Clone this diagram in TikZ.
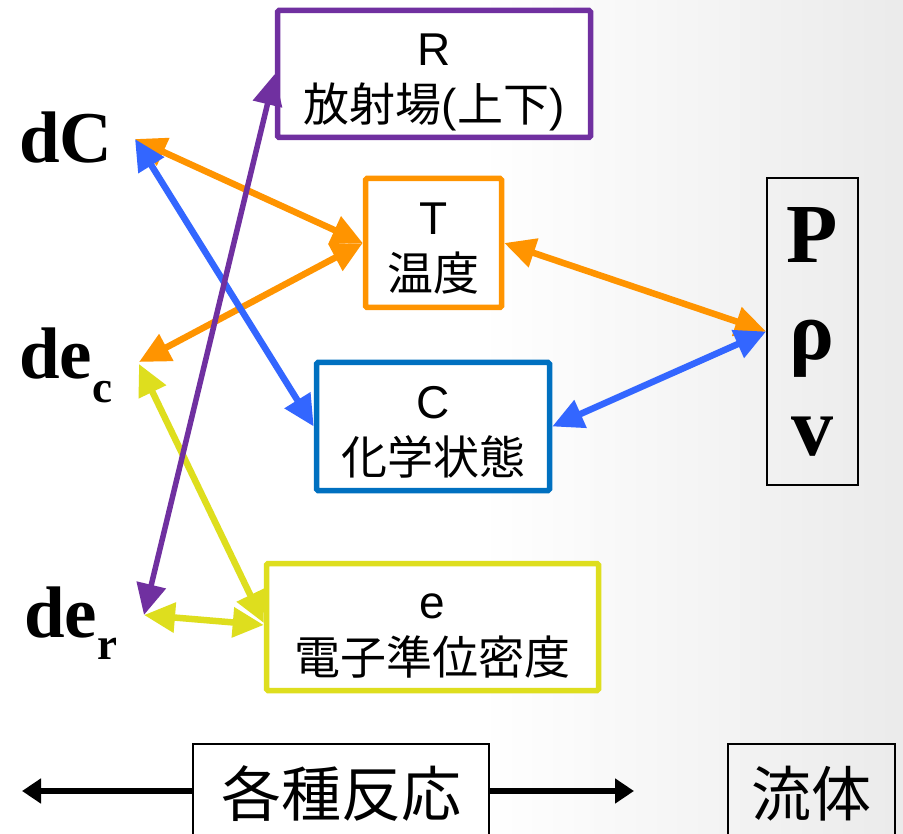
\documentclass[tikz,border=0pt]{standalone}
\usepackage{fontspec}
\setmainfont{Liberation Serif}
\newfontfamily\sansf{Liberation Sans}
\newfontfamily\cjk{Noto Sans CJK JP}
\usetikzlibrary{arrows.meta}
\definecolor{corange}{HTML}{FF9400}
\definecolor{cblue}{HTML}{3366FF}
\definecolor{cboxblue}{HTML}{0070C0}
\definecolor{cpurple}{HTML}{7030A0}
\definecolor{cyellow}{HTML}{DEDE1E}
\tikzset{
  cbox/.style={draw=#1, line width=5.5pt, fill=white, rounded corners=1.5pt,
    align=center, inner sep=0pt, font=\sansf\fontsize{46}{56}\selectfont},
  link/.style={draw=#1, line width=6.5pt,
    {Triangle[length=31pt,width=29pt]}-{Triangle[length=31pt,width=29pt]}},
  lbl/.style={font=\bfseries\fontsize{73}{73}\selectfont, anchor=base west, inner sep=0pt},
  pv/.style={font=\bfseries\fontsize{84}{84}\selectfont, anchor=base, inner sep=0pt},
  bbox/.style={draw=black, line width=2pt, inner sep=0pt,
    font=\cjk\fontsize{60}{60}\selectfont},
  barrow/.style={draw=black, line width=6.5pt, -{Triangle[length=19pt,width=24pt]}}
}
\newcommand{\subtxt}[2]{\raisebox{-#1}{\fontsize{45}{45}\selectfont #2}}
\newcommand{\tstrut}{\rule{0pt}{43pt}}
\begin{document}
\begin{tikzpicture}[x=1pt,y=-1pt]
\useasboundingbox (0,0) rectangle (903,834);
\clip (0,0) rectangle (903,834);
\fill[white] (0,0) rectangle (903,834);
\shade[left color=white, right color=black!8] (480,0) rectangle (903,834);

% boxes
\node[cbox=cpurple, minimum width=313pt, minimum height=127pt] (R) at (434,74)
  {\tstrut R\\{\cjk 放射場}\smash{(}{\cjk 上下}\smash{)}};
\node[cbox=corange, minimum width=136pt, minimum height=129pt] (T) at (433.5,243)
  {\tstrut T\\{\cjk 温度}};
\node[cbox=cboxblue, minimum width=233pt, minimum height=128pt] (C) at (433,426.5)
  {\tstrut C\\{\cjk 化学状態}};
\node[cbox=cyellow, minimum width=332pt, minimum height=127pt] (e) at (432.5,627)
  {\tstrut e\\{\cjk 電子準位密度}};
\node[draw=black, line width=1.8pt, minimum width=91pt, minimum height=307pt, inner sep=0pt] (P) at (812.5,331.5) {};
\node[pv] (Pl) at (812,263) {P};
\node[pv] (rho) at (812,360) {ρ};
\node[pv] (vl) at (812,455) {v};

% labels
\node[lbl] (dC) at (19,163) {dC};
\node[lbl] (dec) at (19,379) {de\subtxt{24pt}{c}};
\node[lbl] (der) at (24,637) {de\subtxt{22pt}{r}};

\coordinate (dCp) at (135,139);
\coordinate (decp) at (139,362);
\coordinate (decy) at (139,364);
\coordinate (derp) at (144,615);

% connectors
\draw[link=corange] (dCp) -- (T.west);
\draw[link=corange] (decp) -- (T.west);
\draw[link=corange] (T.east) -- (P.west);
\draw[link=cblue] (dCp) -- (C.west);
\draw[link=cblue] (C.east) -- (P.west);
\draw[link=cyellow] (decy) -- ([yshift=4pt]e.west);
\draw[link=cyellow] (derp) -- ([yshift=2pt]e.west);
\draw[link=cpurple, line width=5.5pt] (derp) -- (R.west);

% bottom
\node[bbox, minimum width=296pt, minimum height=100pt] (reac) at (341,794) {各種反応};
\node[bbox, minimum width=167pt, minimum height=100pt] (flu) at (811.5,794) {流体};
\coordinate (la) at (22,791);
\coordinate (ra) at (634,791);
\draw[barrow] ([yshift=3pt]reac.west) -- (la);
\draw[barrow] ([yshift=3pt]reac.east) -- (ra);
\end{tikzpicture}
\end{document}
